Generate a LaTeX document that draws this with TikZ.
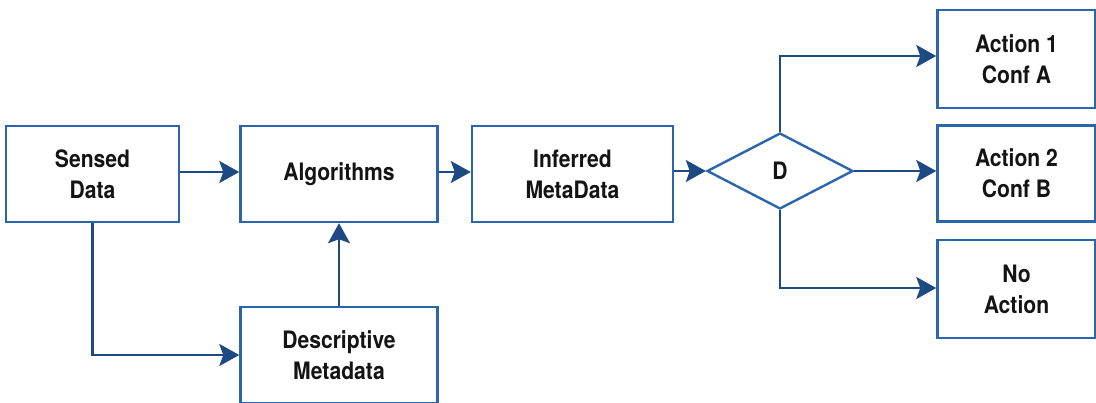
\documentclass[tikz,border=0pt]{standalone}
\usepackage{fontspec}
\setmainfont[FakeStretch=0.88]{TeX Gyre Heros}
\usepackage{xcolor}
\usepackage{tikz}
\usetikzlibrary{shapes.geometric}
\usetikzlibrary{arrows.meta}
\definecolor{boxblue}{HTML}{2B66AC}
\definecolor{arrowblue}{HTML}{1D4A82}
\definecolor{textblack}{HTML}{141414}

\begin{document}
\begin{tikzpicture}[x=1pt, y=-1pt,
		box/.style={rectangle, draw=boxblue, line width=2.4pt, fill=white, minimum width=197pt, minimum height=96pt, align=center, text=textblack, font=\fontsize{24}{31}\selectfont\bfseries},
		dec/.style={diamond, draw=boxblue, line width=2.4pt, fill=white, minimum width=146pt, minimum height=76pt, aspect=1.92, inner sep=0pt, text=textblack, font=\fontsize{24}{31}\selectfont\bfseries},
		arr/.style={draw=arrowblue, line width=2.4pt, -{Stealth[length=20pt, width=22pt, inset=4pt]}}]
			\useasboundingbox (0,0) rectangle (1096,402);
			% Nodes
			\node[box, minimum width=173pt] (sensed) at (92.5,174) {Sensed\\Data};
			\node[box] (algo) at (339,174) {Algorithms};
			\node[box, minimum width=201pt] (infer) at (572.5,174) {Inferred\\MetaData};
			\node[box] (descr) at (339,355) {Descriptive\\Metadata};
			\node[dec] (d) at (780,171) {D};
			\node[box, minimum width=158pt, minimum height=98pt] (act1) at (1016.5,59) {Action 1\\Conf A};
			\node[box, minimum width=158pt] (act2) at (1016.5,173.5) {Action 2\\Conf B};
			\node[box, minimum width=158pt, minimum height=98pt] (noact) at (1016.5,289) {No\\Action};
			% Edges
			\draw[arr] (sensed.east |- 0,172) -- (algo.west |- 0,172);
			\draw[arr] (sensed.south) |- (descr.west);
			\draw[arr] (descr.north) -- (algo.south);
			\draw[arr] (algo.east |- 0,172) -- (infer.west |- 0,172);
			\draw[arr] (infer.east |- d.west) -- (d.west);
			\draw[arr] (d.north) |- (act1.west |- 0,56);
			\draw[arr] (d.east) -- (act2.west |- d.east);
			\draw[arr] (d.south) |- (noact.west |- 0,288);
		\end{tikzpicture}
\end{document}
